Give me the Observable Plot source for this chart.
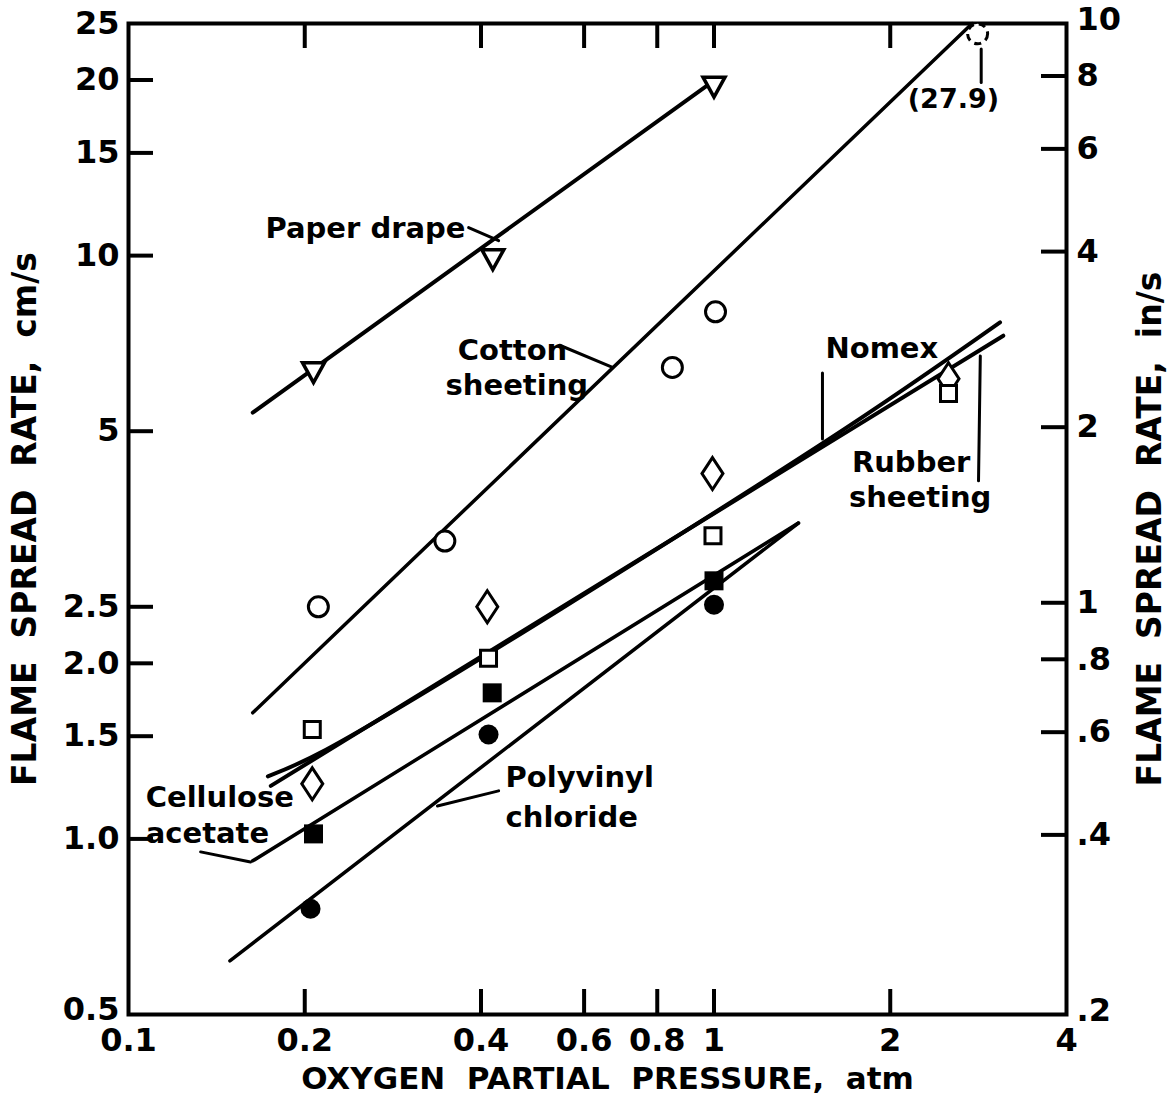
<!DOCTYPE html>
<html><head><meta charset="utf-8">
<script src="https://cdn.jsdelivr.net/npm/d3@7"></script>
<script src="https://cdn.jsdelivr.net/npm/@observablehq/plot@0.6"></script>
<style>
body{margin:0;background:#fff}
svg text{white-space:pre}
</style>
</head><body><div id="chart"></div>
<script>
// ---------- axes ----------
const xTicks = [0.1, 0.2, 0.4, 0.6, 0.8, 1, 2, 4];
const xTickLabels = ["0.1", "0.2", "0.4", "0.6", "0.8", "1", "2", "4"];
const xInnerTicks = [0.2, 0.4, 0.6, 0.8, 1, 2];
const yTicks = [25, 20, 15, 10, 5, 2.5, 2, 1.5, 1, 0.5];
const yTickLabels = ["25", "20", "15", "10", "5", "2.5", "2.0", "1.5", "1.0", "0.5"];
const yInnerTicks = [20, 15, 10, 5, 2.5, 2, 1.5, 1];
const inTicks = [10, 8, 6, 4, 2, 1, 0.8, 0.6, 0.4, 0.2];
const inTickLabels = ["10", "8", "6", "4", "2", "1", ".8", ".6", ".4", ".2"];
const inInnerTicks = [8, 6, 4, 2, 1, 0.8, 0.6, 0.4];
const cmPerIn = 2.54;

// ---------- data points (x: O2 partial pressure atm, y: cm/s) ----------
const paperX = [0.207, 0.419, 1.0];
const paperY = [6.35, 9.92, 19.6];
const cottonX = [0.211, 0.347, 0.849, 1.006];
const cottonY = [2.50, 3.24, 6.43, 8.01];
const cottonOffX = [2.82];      // off-scale point, plotted at top
const cottonOffY = [24.0];
const cottonOffLabel = ["(27.9)"];
const diamondX = [0.206, 0.410, 0.994, 2.515];
const diamondY = [1.243, 2.50, 4.23, 6.15];
const openSqX = [0.206, 0.412, 0.996, 2.515];
const openSqY = [1.54, 2.04, 3.31, 5.80];
const filledSqX = [0.207, 0.418, 1.0];
const filledSqY = [1.02, 1.78, 2.77];
const filledCircX = [0.2046, 0.412, 1.0];
const filledCircY = [0.759, 1.51, 2.52];

// ---------- fitted lines ----------
const paperLineX = [0.163, 1.0];
const paperLineY = [5.38, 19.96];
const cottonLineX = [0.163, 2.76];
const cottonLineY = [1.645, 25];
const nomexLineX = [0.173, 0.217, 1.55, 3.08];
const nomexLineY = [1.28, 1.42, 4.80, 7.68];
const rubberLineX = [0.175, 3.12];
const rubberLineY = [1.233, 7.29];
const celluloseLineX = [0.163, 1.394];
const celluloseLineY = [0.917, 3.48];
const pvcLineX = [0.149, 1.394];
const pvcLineY = [0.618, 3.48];

// ---------- annotations ----------
const labelText = ["Paper drape", "Cotton", "sheeting", "Nomex", "Rubber", "sheeting", "Cellulose", "acetate", "Polyvinyl", "chloride"];
const labelX = [0.1714, 0.365, 0.348, 1.55, 1.72, 1.70, 0.107, 0.107, 0.4406, 0.4406];
const labelY = [11.13, 6.87, 5.98, 6.93, 4.42, 3.85, 1.176, 1.02, 1.272, 1.086];
const arrowX1 = [0.381, 0.545, 1.532, 2.83, 0.1328, 0.4287, 2.86];
const arrowY1 = [11.17, 7.02, 6.29, 4.11, 0.95, 1.209, 19.8];
const arrowX2 = [0.4287, 0.671, 1.532, 2.85, 0.1616, 0.337, 2.86];
const arrowY2 = [10.61, 6.43, 4.85, 6.73, 0.913, 1.139, 22.6];
const arrowBend = [15, 30, 0, 30, -25, 25, 0];

const pts = (xs, ys) => xs.map((x, i) => ({x, y: ys[i]}));
const tickData = (vs, ls, k = 1) => vs.map((v, i) => ({v: v * k, t: ls[i]}));

// custom symbols (size = PI r^2)
const rad = s => Math.sqrt(s / Math.PI);
const invTriangle = {draw(c, s) { const r = rad(s); c.moveTo(-1.1 * r, -0.8 * r); c.lineTo(1.1 * r, -0.8 * r); c.lineTo(0, 1.2 * r); c.closePath(); }};
const tallDiamond = {draw(c, s) { const r = rad(s); c.moveTo(0, -1.6 * r); c.lineTo(1.05 * r, 0); c.lineTo(0, 1.6 * r); c.lineTo(-1.05 * r, 0); c.closePath(); }};
const squareSym = {draw(c, s) { const r = rad(s); c.rect(-r, -r, 2 * r, 2 * r); }};

const FONT = "DejaVu Sans";
const W = 1169, H = 1104, ML = 128, MR = 103, MT = 23, MB = 90;
const PW = W - ML - MR, PH = H - MT - MB, TL = 25;
const lineStyle = {x: "x", y: "y", stroke: "black", strokeWidth: 4, strokeLinecap: "round"};
const tickStyle = {stroke: "black", strokeWidth: 4};
const yLabelData = tickData(yTicks, yTickLabels);

const chart = Plot.plot({
  width: W, height: H,
  marginLeft: ML, marginRight: MR, marginTop: MT, marginBottom: MB,
  x: {type: "log", domain: [0.1, 4]},
  y: {type: "log", domain: [0.5, 25]},
  style: {fontFamily: FONT, background: "white", color: "black", fontWeight: "bold"},
  marks: [
    // tick labels
    Plot.axisX(tickData(xTicks, xTickLabels), {x: "v", text: "t", tickSize: 0, tickPadding: 14, fontSize: 32, label: null}),
    Plot.axisY(yLabelData.filter(d => d.v > 0.5), {y: "v", text: "t", tickSize: 0, tickPadding: 9, fontSize: 32, label: null}),
    Plot.axisY(yLabelData.filter(d => d.v <= 0.5), {y: "v", text: "t", tickSize: 0, tickPadding: 9, dy: -5, fontSize: 32, label: null}),
    Plot.axisY(tickData(inTicks, inTickLabels, cmPerIn), {anchor: "right", y: "v", text: "t", tickSize: 0, tickPadding: 10, fontSize: 32, label: null}),
    // inward tick marks
    Plot.ruleX(xInnerTicks, {...tickStyle, insetTop: PH - TL}),
    Plot.ruleX(xInnerTicks, {...tickStyle, insetBottom: PH - TL}),
    Plot.ruleY(yInnerTicks, {...tickStyle, insetRight: PW - TL}),
    Plot.ruleY(inInnerTicks.map(v => v * cmPerIn), {...tickStyle, insetLeft: PW - TL}),
    Plot.frame({stroke: "black", strokeWidth: 4}),
    // axis titles
    Plot.text(["FLAME  SPREAD  RATE,  cm/s"], {text: d => d, frameAnchor: "left", textAnchor: "middle", dx: -103, dy: 0, rotate: -90, fontSize: 33}),
    Plot.text(["FLAME  SPREAD  RATE,  in/s"], {text: d => d, frameAnchor: "right", textAnchor: "middle", dx: 84, dy: 10, rotate: -90, fontSize: 33}),
    Plot.text(["OXYGEN  PARTIAL  PRESSURE,  atm"], {text: d => d, frameAnchor: "bottom", dy: 74, dx: 10, fontSize: 31}),
    // lines
    Plot.line(pts(paperLineX, paperLineY), lineStyle),
    Plot.line(pts(cottonLineX, cottonLineY), {...lineStyle, strokeWidth: 3.5}),
    Plot.line(pts(nomexLineX, nomexLineY), {...lineStyle, curve: "catmull-rom"}),
    Plot.line(pts(rubberLineX, rubberLineY), lineStyle),
    Plot.line(pts(celluloseLineX, celluloseLineY), {...lineStyle, strokeWidth: 3.5}),
    Plot.line(pts(pvcLineX, pvcLineY), {...lineStyle, strokeWidth: 3.5}),
    // markers
    Plot.dot(pts(paperX, paperY), {x: "x", y: "y", symbol: invTriangle, r: 10, fill: "white", stroke: "black", strokeWidth: 3.5}),
    Plot.dot(pts(cottonX, cottonY), {x: "x", y: "y", r: 10, fill: "white", stroke: "black", strokeWidth: 3}),
    Plot.dot(pts(cottonOffX, cottonOffY), {x: "x", y: "y", r: 10, fill: "white", stroke: "black", strokeWidth: 3, strokeDasharray: "7,5"}),
    Plot.dot(pts(diamondX, diamondY), {x: "x", y: "y", symbol: tallDiamond, r: 10, fill: "white", stroke: "black", strokeWidth: 3}),
    Plot.dot(pts(openSqX, openSqY), {x: "x", y: "y", symbol: squareSym, r: 8, fill: "white", stroke: "black", strokeWidth: 3}),
    Plot.dot(pts(filledSqX, filledSqY), {x: "x", y: "y", symbol: squareSym, r: 9.5, fill: "black", stroke: "none"}),
    Plot.dot(pts(filledCircX, filledCircY), {x: "x", y: "y", r: 10, fill: "black", stroke: "none"}),
    // annotations
    Plot.text(labelText.map((t, i) => ({t, x: labelX[i], y: labelY[i]})), {x: "x", y: "y", text: "t", textAnchor: "start", fontSize: 29}),
    Plot.text(cottonOffLabel.map(t => ({t, x: 2.564, y: 18.5})), {x: "x", y: "y", text: "t", fontSize: 27}),
    Plot.arrow(arrowX1.map((x1, i) => ({x1, y1: arrowY1[i], x2: arrowX2[i], y2: arrowY2[i], b: arrowBend[i]})),
      {x1: "x1", y1: "y1", x2: "x2", y2: "y2", bend: d => d.b, stroke: "black", strokeWidth: 3, headLength: 14, headAngle: 40})
  ]
});
document.getElementById("chart").append(chart);
</script>
</body></html>
